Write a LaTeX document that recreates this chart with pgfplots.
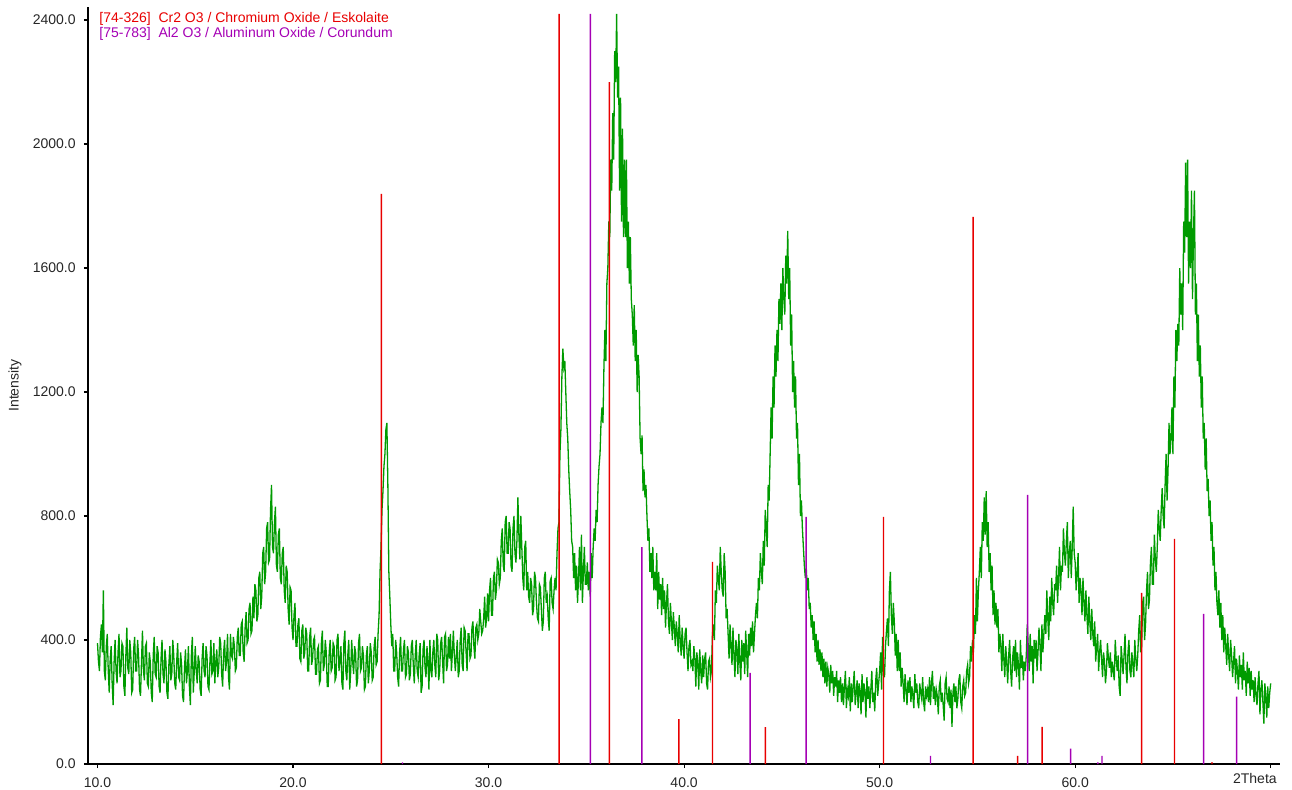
\documentclass[border=0pt]{standalone}
\usepackage{fontspec}
\setmainfont{Liberation Sans}
\usepackage{pgfplots}
\usepackage{pgfplotstable}
\pgfplotsset{compat=1.18}
\definecolor{pkred}{RGB}{232,0,0}
\definecolor{pkpurple}{RGB}{165,0,180}
\definecolor{xrdgreen}{RGB}{0,155,0}
% intensity every 0.05 deg from 10.00 to 70.00 (20 values per degree)
\pgfplotstableread[row sep=\\]{
y\\
390\\330\\300\\410\\450\\360\\560\\300\\270\\380\\420\\300\\230\\340\\380\\260\\190\\330\\400\\300\\
260\\360\\420\\280\\300\\390\\380\\250\\220\\350\\440\\310\\290\\400\\360\\230\\240\\370\\410\\300\\
300\\400\\350\\240\\220\\330\\430\\300\\270\\380\\390\\260\\250\\360\\330\\230\\200\\350\\410\\290\\
280\\380\\360\\250\\230\\340\\400\\290\\260\\370\\330\\230\\210\\320\\380\\270\\290\\400\\350\\260\\
240\\330\\390\\280\\270\\360\\320\\220\\200\\310\\370\\260\\300\\380\\250\\190\\350\\410\\230\\300\\
380\\300\\260\\350\\330\\240\\220\\340\\390\\300\\280\\380\\350\\250\\240\\330\\400\\290\\300\\390\\
260\\330\\370\\280\\310\\410\\390\\290\\250\\360\\400\\300\\330\\420\\280\\240\\420\\350\\340\\410\\
380\\300\\310\\410\\440\\350\\350\\450\\460\\360\\330\\440\\490\\390\\400\\500\\520\\420\\430\\540\\
470\\580\\560\\460\\480\\600\\620\\500\\540\\680\\700\\580\\620\\760\\780\\650\\660\\820\\900\\700\\
680\\780\\830\\640\\620\\740\\760\\600\\580\\680\\700\\560\\520\\640\\620\\500\\450\\570\\560\\440\\
400\\480\\520\\380\\380\\450\\470\\340\\330\\430\\450\\340\\360\\440\\420\\300\\300\\410\\440\\320\\
340\\400\\410\\290\\290\\370\\380\\260\\270\\390\\430\\300\\320\\400\\360\\250\\250\\360\\400\\300\\
310\\390\\380\\270\\280\\400\\420\\300\\330\\380\\260\\240\\390\\430\\300\\270\\350\\400\\240\\300\\
400\\330\\290\\380\\360\\250\\270\\390\\420\\300\\310\\380\\350\\240\\250\\350\\380\\260\\300\\390\\
360\\270\\280\\380\\410\\320\\330\\420\\480\\620\\700\\820\\880\\960\\1000\\1080\\1100\\900\\620\\540\\
450\\380\\420\\300\\300\\400\\360\\280\\250\\360\\410\\300\\300\\370\\400\\280\\290\\380\\360\\270\\
290\\380\\400\\320\\260\\350\\400\\300\\280\\350\\390\\230\\250\\370\\400\\310\\280\\380\\330\\240\\
400\\300\\280\\360\\400\\320\\280\\420\\400\\270\\300\\390\\410\\330\\260\\410\\420\\300\\320\\410\\
340\\420\\300\\360\\430\\350\\300\\350\\400\\280\\300\\400\\440\\320\\300\\440\\430\\360\\300\\420\\
420\\340\\350\\440\\460\\380\\340\\440\\450\\400\\420\\500\\460\\420\\430\\470\\540\\440\\470\\550\\
460\\560\\600\\480\\480\\600\\620\\530\\560\\660\\650\\580\\600\\720\\760\\640\\620\\780\\800\\680\\
680\\780\\760\\640\\620\\760\\800\\680\\650\\720\\860\\740\\660\\800\\700\\600\\560\\700\\720\\560\\
620\\540\\520\\600\\580\\480\\500\\620\\600\\520\\470\\460\\580\\570\\500\\430\\460\\600\\620\\520\\
540\\470\\430\\590\\600\\520\\500\\560\\600\\560\\680\\760\\780\\1000\\1080\\1250\\1340\\1280\\1300\\1200\\
1100\\1050\\950\\880\\820\\720\\700\\600\\680\\560\\640\\520\\600\\700\\560\\740\\520\\620\\700\\580\\
580\\650\\560\\620\\540\\680\\600\\700\\760\\720\\820\\780\\900\\960\\1000\\1100\\1150\\1100\\1280\\1400\\
1300\\1550\\1600\\1750\\1700\\1950\\1850\\2100\\1950\\2300\\2200\\2420\\2150\\2250\\1850\\2150\\1750\\2050\\1700\\1950\\
1700\\1950\\1600\\1750\\1550\\1700\\1500\\1450\\1350\\1480\\1300\\1400\\1200\\1320\\1250\\1050\\1000\\1060\\880\\950\\
860\\900\\800\\720\\760\\620\\680\\600\\700\\560\\620\\560\\680\\500\\620\\530\\580\\480\\600\\500\\
560\\440\\520\\580\\460\\420\\520\\460\\400\\490\\440\\380\\460\\420\\360\\480\\400\\350\\440\\380\\
340\\420\\440\\360\\300\\380\\400\\320\\330\\300\\380\\340\\250\\360\\330\\240\\370\\300\\260\\350\\
280\\340\\360\\260\\240\\330\\340\\280\\300\\420\\450\\400\\560\\520\\640\\600\\560\\700\\620\\560\\
540\\680\\620\\470\\500\\420\\340\\450\\380\\320\\440\\350\\280\\400\\370\\290\\420\\330\\270\\400\\
330\\390\\290\\430\\360\\280\\420\\350\\440\\380\\460\\360\\420\\480\\520\\470\\600\\560\\680\\620\\
580\\720\\640\\820\\760\\700\\900\\850\\1000\\1150\\1050\\1250\\1150\\1350\\1250\\1400\\1300\\1500\\1420\\1550\\
1400\\1600\\1500\\1450\\1640\\1550\\1720\\1500\\1600\\1350\\1450\\1200\\1300\\1150\\1250\\1050\\1100\\900\\1000\\800\\
850\\760\\700\\640\\600\\630\\560\\600\\500\\520\\440\\480\\400\\460\\360\\420\\330\\400\\320\\370\\
300\\360\\280\\340\\260\\330\\250\\310\\290\\230\\320\\260\\300\\220\\280\\250\\300\\200\\270\\230\\
280\\200\\260\\190\\250\\300\\180\\240\\220\\280\\170\\260\\200\\250\\300\\190\\230\\270\\180\\260\\
240\\160\\290\\200\\260\\230\\150\\280\\210\\250\\180\\240\\300\\200\\230\\170\\270\\310\\220\\260\\
300\\360\\240\\410\\300\\280\\380\\430\\470\\380\\560\\620\\480\\420\\520\\460\\350\\420\\300\\400\\
300\\360\\250\\310\\260\\200\\290\\240\\190\\270\\230\\280\\200\\250\\220\\180\\290\\230\\260\\200\\
180\\260\\230\\210\\280\\200\\170\\250\\220\\240\\200\\280\\190\\260\\300\\210\\250\\190\\240\\220\\
160\\250\\270\\200\\230\\190\\140\\260\\280\\210\\200\\250\\180\\240\\120\\230\\260\\200\\250\\180\\
210\\270\\290\\200\\180\\250\\270\\220\\230\\300\\320\\260\\280\\380\\330\\400\\360\\480\\420\\600\\
460\\560\\620\\700\\600\\780\\720\\860\\740\\880\\700\\780\\620\\680\\560\\640\\480\\560\\450\\520\\
440\\500\\360\\420\\380\\300\\420\\340\\280\\380\\330\\260\\350\\400\\300\\250\\340\\380\\300\\400\\
280\\360\\320\\240\\400\\310\\350\\270\\330\\300\\350\\450\\380\\300\\420\\330\\380\\260\\400\\340\\
400\\300\\360\\440\\380\\300\\450\\360\\420\\480\\420\\560\\470\\400\\540\\460\\600\\520\\480\\580\\
560\\640\\520\\600\\700\\560\\640\\620\\760\\680\\640\\720\\780\\600\\680\\720\\600\\700\\830\\680\\
650\\560\\620\\680\\520\\600\\560\\480\\600\\520\\460\\560\\480\\420\\540\\460\\400\\500\\420\\380\\
460\\330\\380\\420\\300\\360\\400\\340\\280\\360\\330\\260\\300\\390\\340\\310\\360\\280\\330\\300\\
270\\400\\340\\300\\350\\250\\220\\380\\340\\290\\350\\420\\310\\260\\360\\400\\300\\280\\360\\320\\
280\\400\\340\\300\\350\\430\\480\\360\\380\\520\\540\\400\\450\\560\\620\\500\\530\\650\\700\\580\\
580\\740\\660\\620\\700\\820\\760\\720\\820\\890\\800\\760\\900\\1000\\850\\950\\1100\\1000\\1050\\1150\\
1000\\1250\\1150\\1400\\1300\\1420\\1350\\1600\\1450\\1550\\1400\\1750\\1650\\1940\\1700\\1950\\1550\\1750\\1600\\1850\\
1500\\1700\\1850\\1450\\1550\\1300\\1450\\1250\\1350\\1150\\1250\\1050\\1100\\950\\1050\\880\\920\\800\\850\\720\\
780\\640\\700\\560\\620\\520\\480\\560\\440\\520\\400\\480\\360\\440\\380\\320\\420\\350\\300\\400\\
350\\280\\330\\380\\260\\340\\300\\240\\350\\280\\320\\240\\360\\270\\300\\220\\330\\260\\310\\220\\
300\\240\\270\\200\\280\\220\\190\\260\\300\\160\\240\\270\\200\\130\\260\\220\\150\\250\\180\\230\\
260\\
}\xrd
\begin{document}
\begin{tikzpicture}
\begin{axis}[
  scale only axis, width=596pt, height=378.5pt,
  xmin=9.514, xmax=70.476, ymin=0, ymax=2442,
  axis x line=bottom, axis y line=left,
  axis line style={-, line width=0.6pt, black},
  tick align=outside, major tick length=2pt,
  tick style={line width=0.6pt, black},
  xtick={10,20,30,40,50,60,70},
  xticklabels={10.0,20.0,30.0,40.0,50.0,60.0,{}},
  ytick={0,400,800,1200,1600,2000,2400},
  yticklabels={0.0,400.0,800.0,1200.0,1600.0,2000.0,2400.0},
  every tick label/.append style={font=\fontsize{7}{8}\selectfont, text=black!85},
  xticklabel style={inner sep=0pt, anchor=north, yshift=-4.5pt},
  yticklabel style={inner sep=0pt, anchor=east, xshift=-4pt},
  clip=false,
]
\addplot[xrdgreen, line width=0.65pt, no marks] table[x expr=\coordindex*0.05+10, y=y]{\xrd};
\addplot[ybar, bar width=0.7pt, bar shift=0pt, fill=pkred, draw=none, no marks] coordinates {
(24.52,1839) (33.61,2420) (36.18,2200) (39.73,145) (41.45,652) (44.16,119)
(50.20,797) (54.78,1765) (57.06,26) (58.31,120) (63.40,552) (65.08,726) (67.00,6)};
\addplot[ybar, bar width=0.7pt, bar shift=0pt, fill=pkpurple, draw=none, no marks] coordinates {
(25.60,5) (35.21,2420) (37.84,700) (43.38,294) (46.24,797) (52.60,26) (57.57,868)
(59.77,50) (61.16,5) (61.37,26) (66.57,484) (68.26,217)};
\node[anchor=north east, inner sep=0pt, font=\fontsize{7}{8}\selectfont, text=black!85]
  at ([xshift=3.2pt, yshift=-4.5pt]axis cs:70,0) {2Theta};
\node[rotate=90, inner sep=0pt, font=\fontsize{7}{8}\selectfont, text=black!85]
  at ([xshift=-36.5pt]rel axis cs:0,0.5) {Intensity};
\node[anchor=base west, inner sep=0pt, font=\fontsize{7}{8}\selectfont, text=pkred]
  at ([xshift=5.5pt, yshift=-7.85pt]rel axis cs:0,1) {[74-326]\ \ Cr2 O3 / Chromium Oxide / Eskolaite};
\node[anchor=base west, inner sep=0pt, font=\fontsize{7}{8}\selectfont, text=pkpurple]
  at ([xshift=5.5pt, yshift=-15.35pt]rel axis cs:0,1) {[75-783]\ \ Al2 O3 / Aluminum Oxide / Corundum};
\end{axis}
\pgfresetboundingbox
\path[use as bounding box] (-44pt,-12.5pt) rectangle (602pt,382pt);
\end{tikzpicture}
\end{document}
